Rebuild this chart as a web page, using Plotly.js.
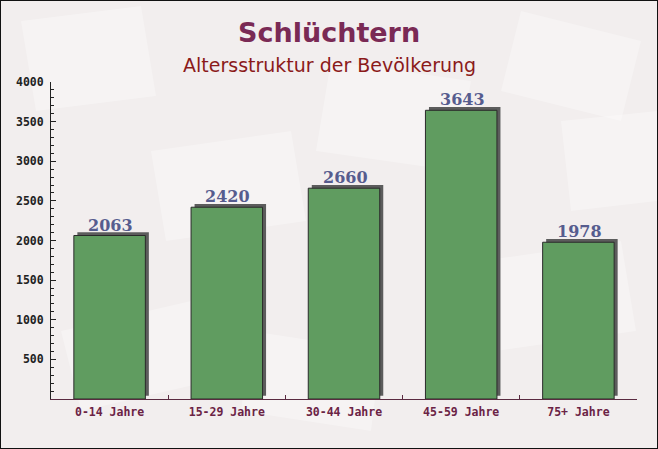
<!DOCTYPE html>
<html>
<head>
<meta charset="utf-8">
<script src="https://cdn.plot.ly/plotly-3.0.1.min.js"></script>
<style>
html,body{margin:0;padding:0;background:#111;}
#chart{position:absolute;left:1px;top:1px;width:656px;height:447px;}
</style>
</head>
<body>
<div id="chart"></div>
<script>
const categories = ["0-14 Jahre", "15-29 Jahre", "30-44 Jahre", "45-59 Jahre", "75+ Jahre"];
const values = [2063, 2420, 2660, 3643, 1978];
const yTickValues = [500, 1000, 1500, 2000, 2500, 3000, 3500, 4000];
const titleText = "Schlüchtern";
const subtitleText = "Altersstruktur der Bevölkerung";

const barWidth = 0.61;
const shadow = {
  type: "bar", x: categories, y: values, base: values.map(() => 40),
  width: barWidth, offset: -barWidth / 2 + 0.03,
  marker: { color: "#5c5c5c", line: { width: 0 } },
  hoverinfo: "skip", showlegend: false
};
const bars = {
  type: "bar", x: categories, y: values,
  width: barWidth, offset: -barWidth / 2,
  marker: { color: "#609c60", line: { color: "#2a2a2a", width: 1 } },
  showlegend: false
};

const annotations = values.map((v, i) => ({
  x: categories[i], y: v, xref: "x", yref: "y",
  text: String(v), showarrow: false, yanchor: "bottom", yshift: -1, xshift: 1,
  font: { family: "DejaVu Serif", size: 16, color: "#565c8e", weight: "bold" }
}));
const pageCenterX = (328 - 50) / 586;
annotations.push({
  xref: "paper", yref: "paper", x: pageCenterX, y: 1, yshift: 50,
  xanchor: "center", yanchor: "middle", showarrow: false,
  text: "<b>" + titleText + "</b>",
  font: { family: "DejaVu Sans", size: 27, color: "#7a2a55" }
});
annotations.push({
  xref: "paper", yref: "paper", x: pageCenterX, y: 1, yshift: 17,
  xanchor: "center", yanchor: "middle", showarrow: false,
  text: subtitleText,
  font: { family: "DejaVu Sans", size: 19, color: "#8b1a1a" }
});

// faint rotated background "envelope" decoration (pixel paths in page space)
const deco = [
  "M 20 20 L 140 5 L 155 95 L 35 110 Z",
  "M 150 150 L 290 130 L 305 220 L 165 240 Z",
  "M 330 60 L 470 80 L 455 170 L 315 150 Z",
  "M 520 10 L 640 40 L 620 120 L 500 90 Z",
  "M 480 260 L 620 240 L 635 330 L 495 350 Z",
  "M 60 330 L 190 300 L 210 380 L 80 410 Z",
  "M 250 330 L 380 350 L 370 430 L 240 410 Z",
  "M 560 120 L 656 110 L 656 200 L 570 210 Z"
];
const shapes = deco.map(p => ({
  type: "path", xref: "paper", yref: "paper", path: p,
  fillcolor: "rgba(255,255,255,0.3)", line: { width: 0 }, layer: "below"
}));
// convert pixel paths to paper coordinates
shapes.forEach(s => {
  s.path = s.path.replace(/(\d+) (\d+)/g, (m, a, b) => {
    const px = (Number(a) - 50) / 586, py = (447 - 49 - Number(b)) / 317;
    return px.toFixed(4) + " " + py.toFixed(4);
  });
});

const layout = {
  width: 656, height: 447,
  margin: { l: 50, r: 20, t: 81, b: 49 },
  paper_bgcolor: "#f2eeee", plot_bgcolor: "rgba(0,0,0,0)",
  barmode: "overlay",
  shapes: shapes,
  xaxis: {
    type: "category", showgrid: false, zeroline: false,
    showline: true, linecolor: "#5a2a40", linewidth: 1,
    ticks: "inside", tickson: "boundaries", ticklen: 4, tickcolor: "#5a2a40",
    ticklabelstandoff: 2,
    tickfont: { family: "DejaVu Sans Mono", size: 11.5, color: "#6b2345", weight: "bold" },
    range: [-0.5, 4.5]
  },
  yaxis: {
    range: [0, 4000], showgrid: false, zeroline: false,
    showline: true, linecolor: "#222", linewidth: 1,
    tickvals: yTickValues, ticks: "inside", ticklen: 5, tickcolor: "#222",
    ticklabelstandoff: 4,
    minor: { dtick: 100, ticks: "inside", ticklen: 3, tickcolor: "#222", showgrid: false },
    tickfont: { family: "DejaVu Sans Mono", size: 11.5, color: "#222", weight: "bold" }
  },
  annotations: annotations
};

Plotly.newPlot("chart", [shadow, bars], layout, { displayModeBar: false, staticPlot: true });
</script>
</body>
</html>
